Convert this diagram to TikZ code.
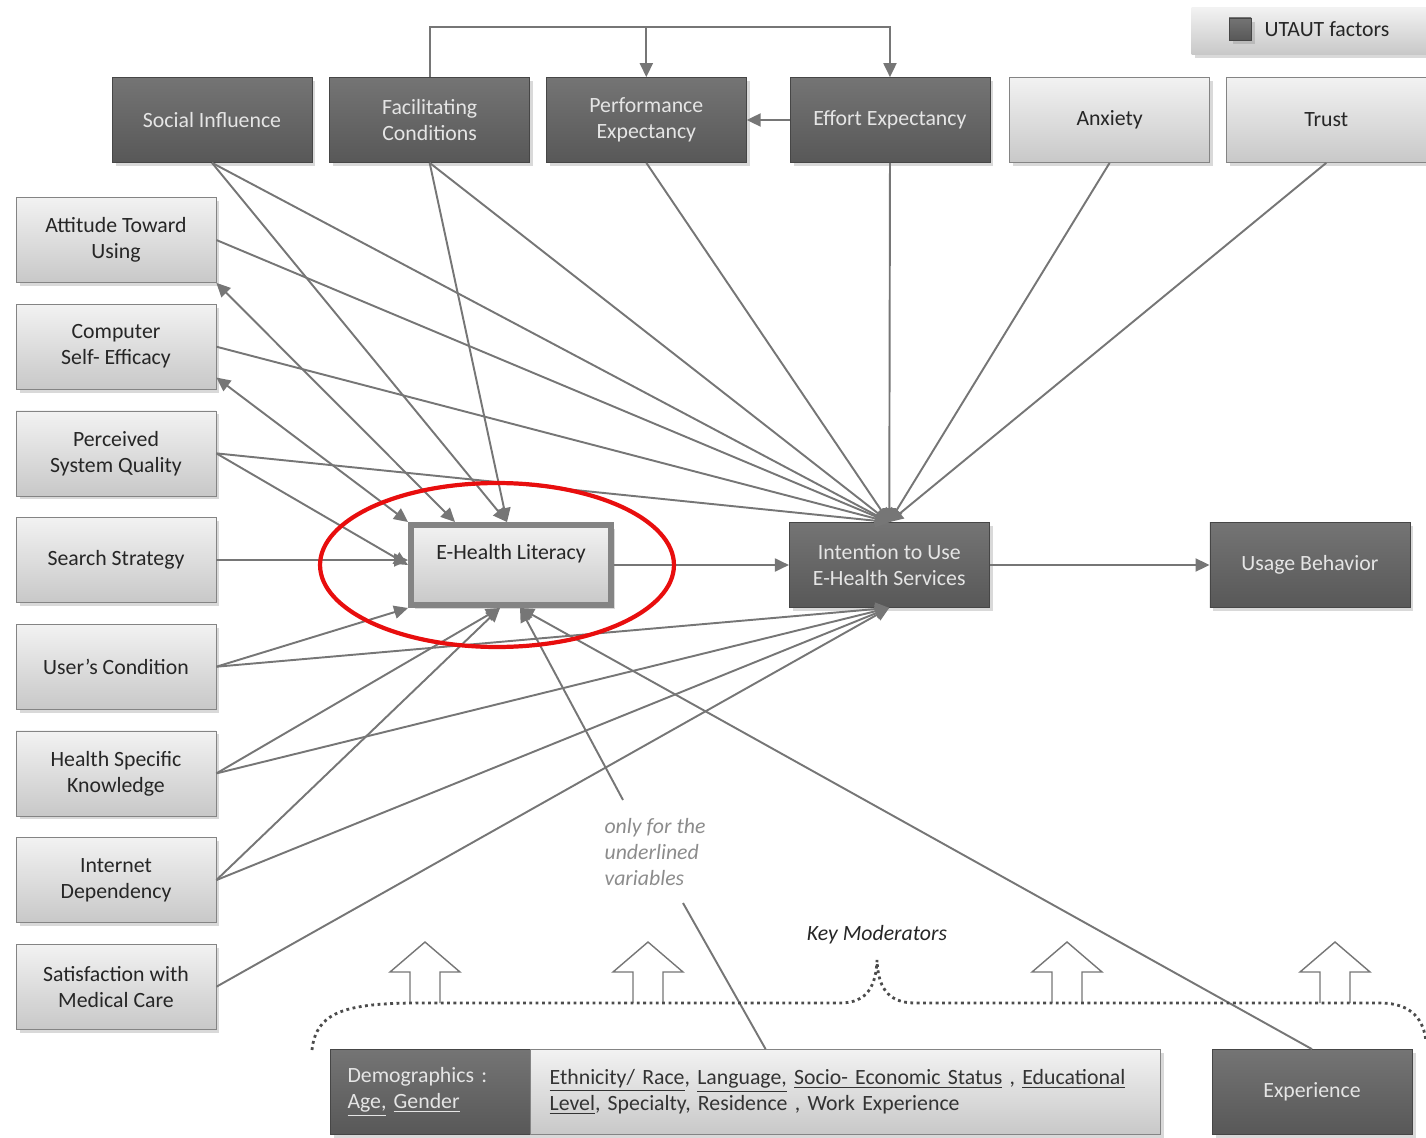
\documentclass[tikz,border=0pt]{standalone}
\usepackage{fontspec}
\setmainfont{Carlito}
\usepackage{tikz}
\usetikzlibrary{positioning,arrows.meta,shadows,calc}
\definecolor{boxdark}{RGB}{88,88,88}
\definecolor{boxdarktop}{RGB}{116,116,116}
\definecolor{boxlight}{RGB}{242,242,242}
\definecolor{boxlightbot}{RGB}{200,200,200}
\definecolor{linegray}{RGB}{118,118,118}
\definecolor{circred}{RGB}{232,14,14}
\definecolor{notegray}{RGB}{140,140,140}
\newcommand\boxfont{\fontsize{12.4}{14.8}\selectfont}
\tikzset{
  factor/.style={rectangle,draw=boxdark!80!black,top color=boxdarktop,bottom color=boxdark,text=white!90!black,align=center,minimum width=4cm,minimum height=1.7cm,font=\boxfont,drop shadow={shadow xshift=2pt,shadow yshift=-2pt,opacity=0.3}},
  extra/.style={rectangle,draw=linegray!90,top color=boxlight,bottom color=boxlightbot,text=black!85,align=center,minimum width=4cm,minimum height=1.7cm,font=\boxfont,drop shadow={shadow xshift=2pt,shadow yshift=-2pt,opacity=0.3}},
  focus/.style={extra,line width=3.4pt,minimum width=4cm,minimum height=1.6cm},
  edge/.style={-{Triangle[length=2.8mm,width=2.6mm]},line width=1.1pt,draw=linegray},
  twoway/.style={{Triangle[length=2.8mm,width=2.6mm]}-{Triangle[length=2.8mm,width=2.6mm]},line width=1.1pt,draw=linegray},
  link/.style={line width=1.1pt,draw=linegray},
  hollow/.style={draw=linegray,fill=white,line width=0.8pt},
  brace/.style={dotted,line width=1.6pt,draw=black!70},
  note/.style={align=left,text=notegray,font=\boxfont\itshape}
}
\begin{document}
\begin{tikzpicture}[x=0.02cm,y=-0.02cm,node distance=0.42cm]
  \useasboundingbox (0,0) rectangle (1426,1138);
  % UTAUT factors and extra factors (top row)
  \node[factor] (si) at (212,120) {Social Influence};
  \node[factor,right=0.34cm of si] (fc) {Facilitating\\Conditions};
  \node[factor,right=0.32cm of fc] (pe) {Performance\\Expectancy};
  \node[factor,right=0.86cm of pe] (ee) {Effort Expectancy};
  \node[extra,right=0.38cm of ee] (anx) {Anxiety};
  \node[extra,right=0.32cm of anx] (tru) {Trust};
  % left column
  \node[extra] (att) at (116,240) {Attitude Toward\\Using};
  \node[extra,below=of att] (cse) {Computer\\Self- Efficacy};
  \node[extra,below=of cse] (psq) {Perceived\\System Quality};
  \node[extra,below=of psq] (ss) {Search Strategy};
  \node[extra,below=of ss] (uc) {User's Condition};
  \node[extra,below=of uc] (hsk) {Health Specific\\Knowledge};
  \node[extra,below=of hsk] (idp) {Internet\\Dependency};
  \node[extra,below=of idp] (sat) {Satisfaction with\\Medical Care};
  % middle row
  \node[focus] (ehl) at (511,565) {E-Health Literacy\\ \mbox{}};
  \node[factor,right=3.5cm of ehl] (iu) {Intention to Use\\E-Health Services};
  \node[factor,right=4.4cm of iu] (ub) {Usage Behavior};
  % moderators
  \node[factor,align=left,text width=3.3cm] (demo) at (430,1092) {Demographics :\\\underline{Age,} \underline{Gender}};
  \node[extra,right=0pt of demo,minimum width=12.6cm,text width=11.84cm,align=left,text=black!80] (detail)
    {\underline{Ethnicity/ Race}, \underline{Language,} \underline{Socio- Economic Status} , \underline{Educational}\\
     \underline{Level}, Specialty, Residence , Work Experience};
  \node[factor] (exp) at (1312,1092) {Experience};
  \node[font=\boxfont\itshape,text=black!85] (keymod) at (877,935) {Key Moderators};
  \node[note] (only) at (655,852) {only for the\\underlined\\variables};
  \coordinate (onlytop) at (623,800);
  \coordinate (onlybot) at (683,903);
  % legend
  \node[extra,draw=none,minimum width=4.7cm,minimum height=0.94cm] (legend) at (1309,31) {};
  \node[factor,minimum width=0.44cm,minimum height=0.44cm,inner sep=0pt] (legendkey) at (1240,29) {};
  \node[right=0.14cm of legendkey,font=\boxfont,text=black!85] (legendtext) {UTAUT factors};

  % into intention
  \foreach \src in {si,fc,pe,ee,anx,tru}
    \draw[edge] (\src.south) -- (iu.north);
  \foreach \src in {att,cse,psq}
    \draw[edge] (\src.east) -- (iu.north);
  \foreach \src in {uc,hsk,idp,sat}
    \draw[edge] (\src.east) -- (iu.south);
  % into e-health literacy
  \draw[edge] (si.south) -- ([xshift=-0.08cm]ehl.north);
  \draw[edge] (fc.south) -- ([xshift=-0.08cm]ehl.north);
  \draw[twoway] (att.south east) -- ([xshift=-1.12cm]ehl.north);
  \draw[twoway] ([yshift=0.24cm]cse.south east) -- (ehl.north west);
  \draw[edge] (psq.east) -- (ehl.west);
  \draw[edge] (ss.east) -- (ss.east -| ehl.west);
  \draw[edge] (uc.east) -- (ehl.south west);
  \draw[edge] (hsk.east) -- ([xshift=-0.22cm]ehl.south);
  \draw[edge] (idp.east) -- ([xshift=-0.22cm]ehl.south);
  \draw[edge] (exp.north) -- ([xshift=0.18cm]ehl.south);
  \draw[edge] (onlytop) -- ([xshift=0.18cm]ehl.south);
  \draw[link] ([xshift=-1.6cm]detail.north) -- (onlybot);
  \draw[edge] (ehl) -- (iu);
  \draw[edge] (iu) -- (ub);
  % among UTAUT factors
  \draw[edge] (ee) -- (pe);
  \coordinate (bus) at ($(fc.north)+(0,-50)$);
  \draw[edge] (fc.north) -- (bus) -| (ee.north);
  \draw[edge] (bus) -| (pe.north);

  % moderator arrows and brace
  \foreach \x in {425,648,1067,1335}
    \draw[hollow] ({\x-15},1003) -- ({\x-15},972) -- ({\x-35},972) -- (\x,942)
      -- ({\x+35},972) -- ({\x+15},972) -- ({\x+15},1003);
  \draw[brace] (312,1050) .. controls (316,1012) and (345,1003) .. (420,1003)
    -- (840,1003) .. controls (868,1003) and (876,985) .. (877,960)
    .. controls (878,985) and (886,1003) .. (915,1003)
    -- (1380,1003) .. controls (1412,1003) and (1424,1020) .. (1426,1042);

  \draw[circred,line width=2.4pt] (497,565) ellipse [x radius=3.54cm,y radius=1.64cm];
\end{tikzpicture}
\end{document}
